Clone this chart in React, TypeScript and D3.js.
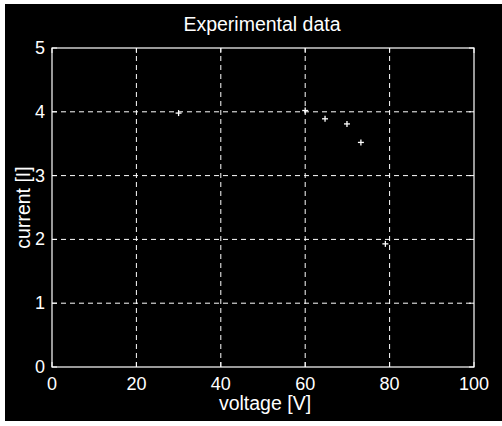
import * as d3 from 'd3';
import React, { ReactElement } from 'react';

const voltage = [30, 60, 64.7, 69.9, 73.2, 79];
const current = [3.98, 4.02, 3.89, 3.81, 3.52, 1.93];
const xTicks = [0, 20, 40, 60, 80, 100];
const yTicks = [0, 1, 2, 3, 4, 5];

const WIDTH = 502;
const HEIGHT = 426;
const FONT = '"Liberation Sans", Arial, sans-serif';

const App = (): ReactElement => {
  const x = d3.scaleLinear().domain([0, 100]).range([52, 474]);
  const y = d3.scaleLinear().domain([0, 5]).range([367, 48]);
  const [x0, x1] = x.range();
  const [y0, y1] = y.range();

  return (
    <svg
      width={WIDTH}
      height={HEIGHT}
      style={{ position: 'absolute', left: 0, top: 0, background: '#fff' }}
    >
      <rect x={5} y={4} width={WIDTH - 5} height={HEIGHT - 9} fill="#000" />

      {/* grid */}
      {xTicks.slice(1, -1).map((t) => (
        <line
          key={`gx${t}`}
          x1={x(t)}
          x2={x(t)}
          y1={y0}
          y2={y1}
          stroke="#fff"
          strokeWidth={1}
          strokeDasharray="5,4"
        />
      ))}
      {yTicks.slice(1, -1).map((t) => (
        <line
          key={`gy${t}`}
          x1={x0}
          x2={x1}
          y1={y(t)}
          y2={y(t)}
          stroke="#fff"
          strokeWidth={1}
          strokeDasharray="5,4"
        />
      ))}

      {/* inward ticks */}
      {xTicks.map((t) => (
        <g key={`tx${t}`} stroke="#fff">
          <line x1={x(t)} x2={x(t)} y1={y0} y2={y0 - 5} />
          <line x1={x(t)} x2={x(t)} y1={y1} y2={y1 + 5} />
        </g>
      ))}
      {yTicks.map((t) => (
        <g key={`ty${t}`} stroke="#fff">
          <line x1={x0} x2={x0 + 5} y1={y(t)} y2={y(t)} />
          <line x1={x1} x2={x1 - 5} y1={y(t)} y2={y(t)} />
        </g>
      ))}

      {/* axes box */}
      <rect
        x={x0}
        y={y1}
        width={x1 - x0}
        height={y0 - y1}
        fill="none"
        stroke="#fff"
        strokeWidth={1.2}
      />

      {/* data markers */}
      {voltage.map((v, i) => (
        <g key={`p${i}`} stroke="#fff" strokeWidth={1.3}>
          <line x1={x(v) - 3} x2={x(v) + 3} y1={y(current[i])} y2={y(current[i])} />
          <line x1={x(v)} x2={x(v)} y1={y(current[i]) - 3} y2={y(current[i]) + 3} />
        </g>
      ))}

      {/* tick labels */}
      {xTicks.map((t) => (
        <text
          key={`lx${t}`}
          x={x(t)}
          y={390}
          fill="#fff"
          fontFamily={FONT}
          fontSize={18}
          textAnchor="middle"
        >
          {t}
        </text>
      ))}
      {yTicks.map((t) => (
        <text
          key={`ly${t}`}
          x={45}
          y={y(t) + 6}
          fill="#fff"
          fontFamily={FONT}
          fontSize={18}
          textAnchor="end"
        >
          {t}
        </text>
      ))}

      <text
        x={262}
        y={31}
        fill="#fff"
        fontFamily={FONT}
        fontSize={19.5}
        textAnchor="middle"
      >
        Experimental data
      </text>
      <text
        x={265}
        y={410}
        fill="#fff"
        fontFamily={FONT}
        fontSize={19.5}
        textAnchor="middle"
      >
        voltage [V]
      </text>
      <text
        transform={`translate(30, ${(y0 + y1) / 2}) rotate(-90)`}
        fill="#fff"
        fontFamily={FONT}
        fontSize={19.5}
        textAnchor="middle"
      >
        current [I]
      </text>
    </svg>
  );
};

export default App;
